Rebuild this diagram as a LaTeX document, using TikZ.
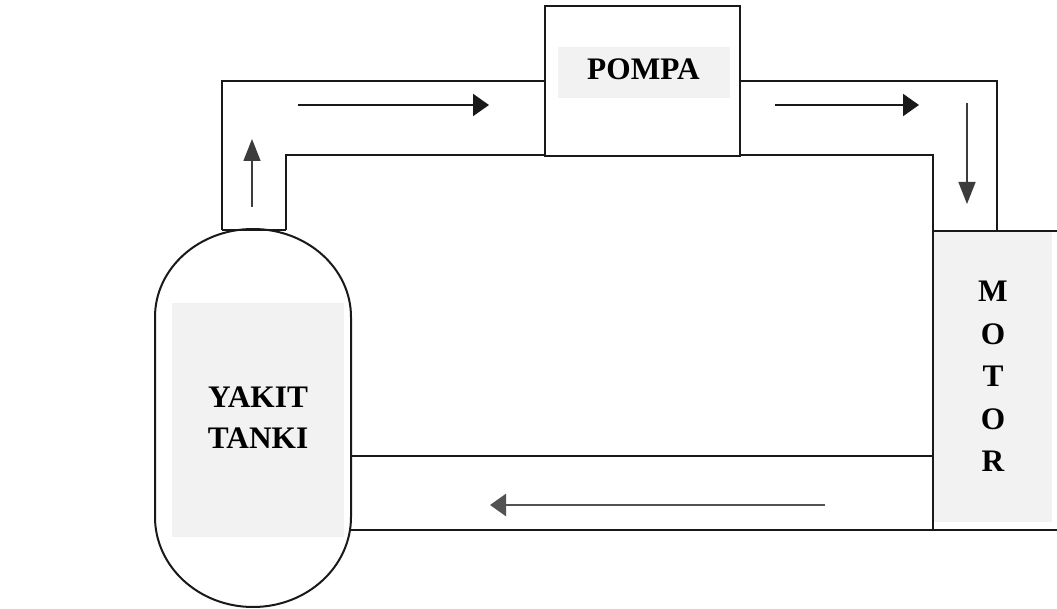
\documentclass[tikz,border=0pt]{standalone}
\usepackage{fontspec}
\setmainfont{Liberation Serif}
\usetikzlibrary{arrows.meta}
\definecolor{boxgray}{RGB}{242,242,242}
\definecolor{ink}{RGB}{25,25,25}
\begin{document}
\begin{tikzpicture}[x=0.75pt,y=-0.75pt,
  wall/.style={draw=ink,line width=1.5pt},
  flow/.style={draw=ink,line width=1.6pt,-{Triangle[length=12pt,width=16.5pt]}},
  riser/.style={draw=ink!85,line width=1.1pt,-{Triangle[length=16.5pt,width=12.75pt]}},
  tag/.style={font=\bfseries\fontsize{23.5}{30}\selectfont,text=black,inner sep=0pt,anchor=base}]
\useasboundingbox (0,0) rectangle (1057,609);

% grey panels behind the labels
\fill[boxgray] (172,303) rectangle (344,537);
\fill[boxgray] (933,232) rectangle (1052,522);

% fuel tank (capsule)
\draw[wall] (155,517) -- (155,317)
  arc[start angle=180,end angle=0,x radius=73.5pt,y radius=66pt]
  -- (351,517)
  arc[start angle=0,end angle=-180,x radius=73.5pt,y radius=67.5pt] -- cycle;

% pump housing
\node[wall,rectangle,minimum width=146.25pt,minimum height=112.5pt,inner sep=0pt,
      anchor=north west] (pump) at (544,5) {};
\fill[boxgray] (558,47) rectangle (730,98);

% pipes: tank -> pump
\draw[wall] (222,230) -- (222,81) -- (544,81);
\draw[wall] (286,230) -- (286,155) -- (544,155);
\draw[wall] (222,230) -- (286,230);

% pipes: pump -> engine
\draw[wall] (739,81) -- (997,81) -- (997,231);
\draw[wall] (739,155) -- (933,155) -- (933,530);
\draw[wall] (933,231) -- (1057,231);

% return line: engine -> tank
\draw[wall] (351,456) -- (933,456);
\draw[wall] (350,530) -- (1057,530);

% labels
\node[tag] (yakit) at (258,408) {YAKIT};
\node[tag] (tanki) at (258,449) {TANKI};
\node[tag] (pompa) at (643.5,79.5) {POMPA};
\foreach \ch [count=\i from 0] in {M,O,T,O,R}
  \node[tag] (motor\i) at (993,302+42.5*\i) {\ch};

% flow direction arrows
\coordinate (u0) at (252,207); \coordinate (u1) at (252,139);
\coordinate (a0) at (298,105); \coordinate (a1) at (489,105);
\coordinate (b0) at (775,105); \coordinate (b1) at (919,105);
\coordinate (d0) at (967,103); \coordinate (d1) at (967,204);
\coordinate (r0) at (825,505); \coordinate (r1) at (490,505);
\draw[riser] (u0) -- (u1);
\draw[flow] (a0) -- (a1);
\draw[flow] (b0) -- (b1);
\draw[riser] (d0) -- (d1);
\draw[flow,draw=ink!75,line width=2pt] (r0) -- (r1);
\end{tikzpicture}
\end{document}
